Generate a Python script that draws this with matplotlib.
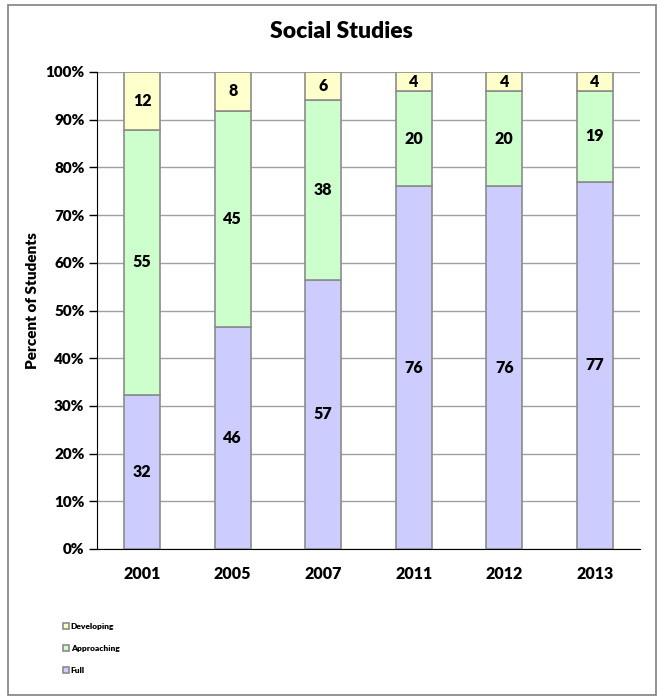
import numpy as np
import matplotlib
matplotlib.use("Agg")
import matplotlib.pyplot as plt
from matplotlib.patches import Rectangle

plt.rcParams['font.family'] = ['Lato', 'DejaVu Sans']
W = 'heavy'

years = ['2001', '2005', '2007', '2011', '2012', '2013']
full = [32, 46, 57, 76, 76, 77]
approaching = [55, 45, 38, 20, 20, 19]
developing = [12, 8, 6, 4, 4, 4]

series = [('Full', full, '#ccccff'),
          ('Approaching', approaching, '#ccffcc'),
          ('Developing', developing, '#ffffcc')]

tot = np.array(full) + np.array(approaching) + np.array(developing)

fig = plt.figure(figsize=(6.62, 7.0), dpi=100)
fig.patches.append(Rectangle((8/662, 5/700), 648/662, 690/700, transform=fig.transFigure,
                             fill=False, edgecolor='#808080', lw=1.2))
ax = fig.add_axes([97/662, 1 - 549/700, 543/662, 477/700])

x = np.arange(len(years))
bottom = np.zeros(len(years))
handles = []
for name, vals, col in series:
    pct = np.array(vals) / tot * 100
    b = ax.bar(x, pct, 0.4, bottom=bottom, color=col, edgecolor='#8c8c8c', lw=1.2,
               label=name, zorder=3)
    handles.append(b)
    for xi, bi, pi, v in zip(x, bottom, pct, vals):
        ax.text(xi, bi + pi / 2, str(v), ha='center', va='center',
                fontsize=11.5, fontweight=W, zorder=4)
    bottom += pct

ax.set_xlim(-0.5, len(years) - 0.5)
ax.set_ylim(0, 100)
ax.set_yticks(np.arange(0, 101, 10))
ax.set_yticklabels([f'{v}%' for v in range(0, 101, 10)], fontsize=11, fontweight=W)
ax.set_xticks(x)
ax.set_xticklabels(years, fontsize=11.5, fontweight=W)
ax.tick_params(axis='x', length=0, pad=12)
ax.tick_params(axis='y', length=6, width=1, direction='out', pad=3)
ax.grid(axis='y', color='#a0a0a0', lw=1, zorder=0)
ax.spines['top'].set_visible(False)
ax.spines['right'].set_visible(False)
ax.spines['left'].set_color('black')
ax.spines['bottom'].set_color('black')
ax.set_ylabel('Percent of Students', fontsize=11, fontweight=W)
ax.yaxis.set_label_coords(-0.107, 0.52)

fig.text(341/662, 1 - 32/700, 'Social Studies', ha='center', va='center',
         fontsize=16.5, fontweight=W)

leg = fig.legend(handles[::-1], [s[0] for s in series][::-1], loc='upper left',
                 bbox_to_anchor=(55/662, 1 - 615/700), frameon=False,
                 prop={'size': 6, 'weight': W}, handlelength=0.8,
                 handleheight=0.8, handletextpad=0.2, labelspacing=1.8)

fig.savefig('out.png', dpi=100)
